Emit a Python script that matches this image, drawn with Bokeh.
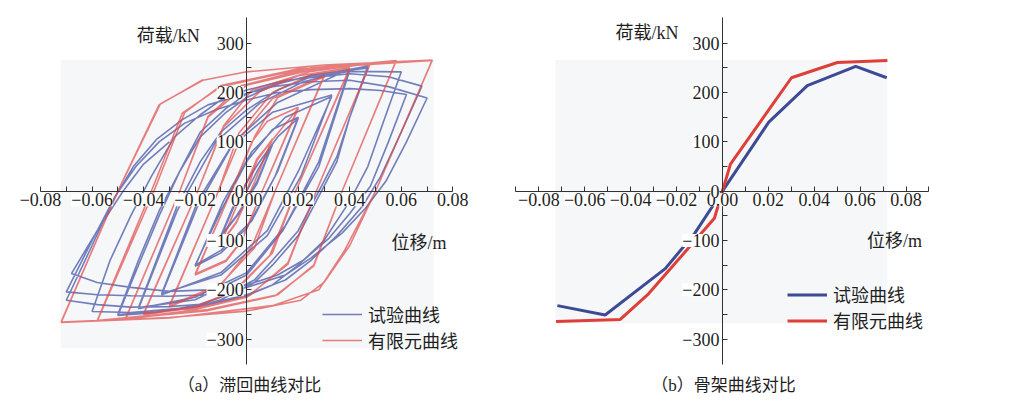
from bokeh.plotting import figure
from bokeh.models import FixedTicker, Label, Legend, LegendItem, BoxAnnotation, Range1d
from bokeh.layouts import row
from bokeh.embed import file_html
from bokeh.resources import INLINE

# ---------------- data ----------------
xticks = [-0.08, -0.06, -0.04, -0.02, 0.0, 0.02, 0.04, 0.06, 0.08]
xtick_labels = ["−0.08", "−0.06", "−0.04", "−0.02", "0.00", "0.02", "0.04", "0.06", "0.08"]
xminor_a = [-0.07, -0.05, -0.03, -0.01, 0.01, 0.03, 0.05, 0.07]
xminor_b = [-0.09, -0.07, -0.05, -0.03, -0.01, 0.01, 0.03, 0.05, 0.07, 0.09]
yticks = [-300, -200, -100, 0, 100, 200, 300]
ytick_labels = ["−300", "−200", "−100", "0", "100", "200", "300"]
yminor = [-250, -150, -50, 50, 150, 250]

series_names = ["试验曲线", "有限元曲线"]

# (a) hysteresis, finite element model
fe_disp = [
    0.0, 0.004, 0.010, 0.0015, -0.004, -0.010, -0.0015, 0.004, 0.010, 0.0015, -0.004, -0.010, -0.0015,
    0.004, 0.020, 0.006, -0.002, -0.008, -0.020, -0.006, 0.002, 0.008, 0.020, 0.006, -0.002, -0.008, -0.020, -0.006,
    0.003, 0.012, 0.030, 0.011, 0.003, -0.010, -0.030, -0.011, -0.002, 0.010, 0.030, 0.011, 0.002, -0.010, -0.030, -0.011,
    -0.003, 0.010, 0.025, 0.040, 0.019, 0.010, -0.004, -0.020, -0.040, -0.019, -0.009, 0.005, 0.020, 0.040,
    0.019, 0.009, -0.005, -0.020, -0.040, -0.019, -0.009, 0.002, 0.025, 0.048, 0.027, 0.016, 0.001, -0.025, -0.047,
    -0.026, -0.015, 0.000, 0.025, 0.048, 0.027, 0.016, 0.000, -0.025, -0.047, -0.026, -0.015, -0.002, 0.025, 0.058,
    0.037, 0.026, 0.012, -0.015, -0.058, -0.037, -0.025, -0.010, 0.020, 0.058, 0.037, 0.026, 0.011, -0.015, -0.058,
    -0.036, -0.024, -0.010, 0.020, 0.072, 0.050, 0.040, 0.030, 0.021, 0.000, -0.030, -0.072, -0.050, -0.0335,
    -0.017, 0.000, 0.030, 0.072, 0.050, 0.038, 0.028, 0.010, -0.030, -0.072, -0.050, -0.034, -0.017,
]
fe_load = [
    0, 62, 105, 0, -62, -105, 0, 64, 106, 0, -64, -106, 0,
    66, 168, 0, -100, -140, -168, 0, 100, 142, 170, 0, -102, -142, -170, 0,
    110, 190, 232, 0, -115, -188, -232, 0, 112, 188, 234, 0, -112, -190, -234, 0,
    118, 200, 236, 248, 0, -125, -200, -234, -248, 0, 130, 202, 234, 250,
    0, -130, -203, -236, -250, 0, 132, 205, 243, 259, 0, -145, -212, -244, -258,
    0, 150, 215, 246, 260, 0, -148, -215, -246, -259, 0, 152, 214, 250, 264,
    0, -150, -210, -240, -262, 0, 158, 212, 246, 265, 0, -152, -212, -242, -263,
    0, 160, 214, 248, 265, 0, -110, -185, -221, -243, -256, -265, 0, 177,
    225, 242, 256, 266, 0, -120, -200, -232, -257, -266, 0, 175, 226,
]

# (a) hysteresis, test
test_disp = [
    0.0, 0.004, 0.010, 0.004, -0.003, -0.010, -0.004, 0.003, 0.010, 0.004, -0.004, -0.010, -0.004,
    0.005, 0.012, 0.020, 0.012, 0.002, -0.010, -0.020, -0.010, 0.000, 0.010, 0.020, 0.011, 0.000, -0.010, -0.020,
    -0.009, 0.002, 0.015, 0.033, 0.020, 0.008, -0.010, -0.033, -0.019, -0.006, 0.010, 0.033, 0.021, 0.008, -0.010, -0.033,
    -0.019, -0.005, 0.012, 0.040, 0.028, 0.015, 0.000, -0.020, -0.042,
    -0.027, -0.012, 0.005, 0.022, 0.040, 0.028, 0.014, 0.000, -0.020, -0.042,
    -0.027, -0.018, -0.010, 0.000, 0.012, 0.025, 0.047, 0.040, 0.035, 0.028, 0.020, 0.010, 0.003, -0.010, -0.020, -0.035, -0.050,
    -0.042, -0.034, -0.026, -0.018, -0.008, 0.000, 0.012, 0.025, 0.047, 0.040, 0.035, 0.028, 0.020, 0.010, 0.003, -0.010, -0.020, -0.035, -0.050,
    -0.042, -0.034, -0.026, -0.018, -0.008, 0.000, 0.010, 0.020, 0.040, 0.060, 0.053, 0.047, 0.040, 0.030, 0.020, 0.010, 0.000, -0.020, -0.045, -0.060,
    -0.053, -0.045, -0.037, -0.028, -0.018, -0.010, 0.000, 0.015, 0.040, 0.055, 0.068, 0.060, 0.052, 0.045, 0.035, 0.025, 0.015, 0.000, -0.015, -0.030, -0.045, -0.058, -0.070,
    -0.060, -0.052, -0.044, -0.035, -0.025, -0.015, 0.000, 0.010, 0.025, 0.040, 0.055, 0.070, 0.062, 0.054, 0.046, 0.037, 0.025, 0.015, 0.000, -0.015, -0.030, -0.045, -0.058, -0.070,
    -0.060, -0.051, -0.043, -0.034, -0.024, -0.012, 0.000, 0.012, 0.025, 0.040, 0.052, 0.062, 0.055, 0.048, 0.040, 0.032, 0.022, 0.012, 0.000, -0.015, -0.030, -0.045, -0.058, -0.068,
    -0.058, -0.048, -0.040, -0.030,
]
test_load = [
    0, 40, 95, 20, -45, -92, -20, 45, 95, 15, -50, -90, -15,
    60, 110, 148, 40, -60, -120, -150, -40, 60, 125, 150, 30, -75, -125, -152,
    -20, 80, 150, 192, 40, -80, -165, -210, -30, 90, 160, 195, 30, -90, -170, -208,
    -20, 100, 180, 248, 60, -70, -165, -215, -238,
    -40, 100, 178, 222, 245, 50, -80, -170, -220, -236,
    -30, 60, 120, 165, 205, 232, 254, 150, 70, 0, -80, -140, -180, -215, -232, -246, -252,
    -150, -50, 40, 110, 160, 190, 218, 235, 250, 150, 60, -10, -90, -150, -185, -220, -235, -245, -250,
    -140, -40, 40, 120, 168, 198, 215, 228, 243, 242, 140, 50, -20, -100, -150, -190, -212, -235, -246, -244,
    -140, -50, 30, 110, 155, 185, 205, 225, 238, 232, 213, 120, 30, -30, -90, -140, -180, -210, -228, -234, -235, -230, -221,
    -110, -20, 50, 105, 145, 175, 198, 212, 222, 225, 212, 189, 100, 20, -35, -85, -135, -170, -195, -210, -213, -212, -210, -204,
    -100, -10, 50, 100, 138, 165, 185, 200, 206, 208, 204, 196, 100, 10, -45, -95, -140, -170, -190, -200, -203, -195, -185, -167,
    -80, 0, 55, 100,
]

# (b) skeleton curves
skel_test_disp = [-0.0719, -0.0511, -0.0249, -0.012, 0.0, 0.0202, 0.037, 0.0581, 0.0716]
skel_test_load = [-232, -251, -157, -85, 0, 140, 214, 253, 230]
skel_fe_disp = [-0.0725, -0.0445, -0.0322, -0.0035, 0.0, 0.0035, 0.0301, 0.0501, 0.0719]
skel_fe_load = [-264, -260, -208, -55, 0, 55, 230, 261, 265]

BLUE_A, RED_A = "#4654a6", "#e04848"
BLUE_B, RED_B = "#3d4a94", "#de3f38"
SERIF = "'Liberation Serif'"
CJK = "'Liberation Serif', 'Noto Sans CJK SC'"
CJK_ONLY = "'Noto Sans CJK SC'"
TXT = "#1e1e1e"
H = 401


def make_fig(width, xr, xbounds, xminor, shade):
    p = figure(width=width, height=H, x_range=Range1d(*xr), y_range=Range1d(-426.3, 386.6),
               output_backend="svg", toolbar_location=None, min_border=0,
               background_fill_color="white", border_fill_color="white", outline_line_color=None)
    p.grid.visible = False
    p.add_layout(BoxAnnotation(left=shade[0], right=shade[1], bottom=shade[2], top=shade[3],
                               fill_color="#f6f7f9", fill_alpha=1.0, line_color=None, level="underlay"))
    xa = p.xaxis[0]
    ya = p.yaxis[0]
    xa.fixed_location = 0
    ya.fixed_location = 0
    xa.bounds = xbounds
    ya.bounds = (-352, 352)
    xa.ticker = FixedTicker(ticks=xticks, minor_ticks=xminor)
    ya.ticker = FixedTicker(ticks=yticks, minor_ticks=yminor)
    # tick texts are drawn as labels with a white backing (as in the source figure)
    xa.major_label_overrides = {t: "" for t in xticks}
    ya.major_label_overrides = {t: "" for t in yticks}
    for ax in (xa, ya):
        ax.major_tick_in = 5
        ax.major_tick_out = 0
        ax.minor_tick_in = 5
        ax.minor_tick_out = 0
        ax.axis_line_color = "#333333"
        ax.major_tick_line_color = "#333333"
        ax.minor_tick_line_color = "#333333"
    return p


def add_tick_texts(p):
    for t, lab in zip(xticks, xtick_labels):
        p.add_layout(Label(x=t, y=0, text=lab, y_offset=-2, text_align="center", text_baseline="top",
                           text_font=SERIF, text_font_size="18px", text_color=TXT,
                           background_fill_color="white"))
    for t, lab in zip(yticks, ytick_labels):
        p.add_layout(Label(x=0, y=t, text=lab, x_offset=-3, text_align="right", text_baseline="middle",
                           text_font=SERIF, text_font_size="18px", text_color=TXT,
                           background_fill_color="white"))


# ---------- panel (a) ----------
p1 = make_fig(500, (-0.09554, 0.09849), (-0.08, 0.08), xminor_a, (-0.0722, 0.0726, -318, 266))
r_test = p1.line(test_disp, test_load, line_color=BLUE_A, line_width=1.6, line_alpha=0.75)
r_fe = p1.line(fe_disp, fe_load, line_color=RED_A, line_width=1.6, line_alpha=0.7)
add_tick_texts(p1)
leg1 = Legend(items=[LegendItem(label=series_names[0], renderers=[r_test]),
                     LegendItem(label=series_names[1], renderers=[r_fe])],
              location=(322, 48), glyph_width=40, glyph_height=24, label_height=24,
              label_standoff=6, spacing=0, padding=0, margin=0, border_line_color=None,
              background_fill_alpha=0, label_text_font=CJK_ONLY,
              label_text_font_size="18px", label_text_color=TXT)
p1.add_layout(leg1)
p1.add_layout(Label(x=-0.0427, y=314, text="荷载/kN", text_font=CJK, text_font_size="18px",
                    text_color=TXT, text_align="left", text_baseline="middle"))
p1.add_layout(Label(x=0.0562, y=-104, text="位移/m", text_font=CJK, text_font_size="18px",
                    text_color=TXT, text_align="left", text_baseline="middle"))
p1.add_layout(Label(x=249, y=16, x_units="screen", y_units="screen", text="（a）滞回曲线对比",
                    text_font=CJK, text_font_size="17px", text_color=TXT,
                    text_align="center", text_baseline="middle"))

# ---------- panel (b) ----------
p2 = make_fig(509, (-0.0967, 0.1251), (-0.09, 0.09), xminor_b, (-0.0728, 0.0719, -268, 266))
s_test = p2.line(skel_test_disp, skel_test_load, line_color=BLUE_B, line_width=3)
s_fe = p2.line(skel_fe_disp, skel_fe_load, line_color=RED_B, line_width=3)
add_tick_texts(p2)
leg2 = Legend(items=[LegendItem(label=series_names[0], renderers=[s_test]),
                     LegendItem(label=series_names[1], renderers=[s_fe])],
              location=(287, 68), glyph_width=40, glyph_height=23, label_height=23,
              label_standoff=6, spacing=0, padding=0, margin=0, border_line_color=None,
              background_fill_alpha=0, label_text_font=CJK_ONLY,
              label_text_font_size="18px", label_text_color=TXT)
p2.add_layout(leg2)
p2.add_layout(Label(x=-0.0466, y=320, text="荷载/kN", text_font=CJK, text_font_size="18px",
                    text_color=TXT, text_align="left", text_baseline="middle"))
p2.add_layout(Label(x=0.0630, y=-101, text="位移/m", text_font=CJK, text_font_size="18px",
                    text_color=TXT, text_align="left", text_baseline="middle"))
p2.add_layout(Label(x=223, y=16, x_units="screen", y_units="screen", text="（b）骨架曲线对比",
                    text_font=CJK, text_font_size="17px", text_color=TXT,
                    text_align="center", text_baseline="middle"))

layout = row(p1, p2)
open("out.html", "w").write(file_html(layout, INLINE))
